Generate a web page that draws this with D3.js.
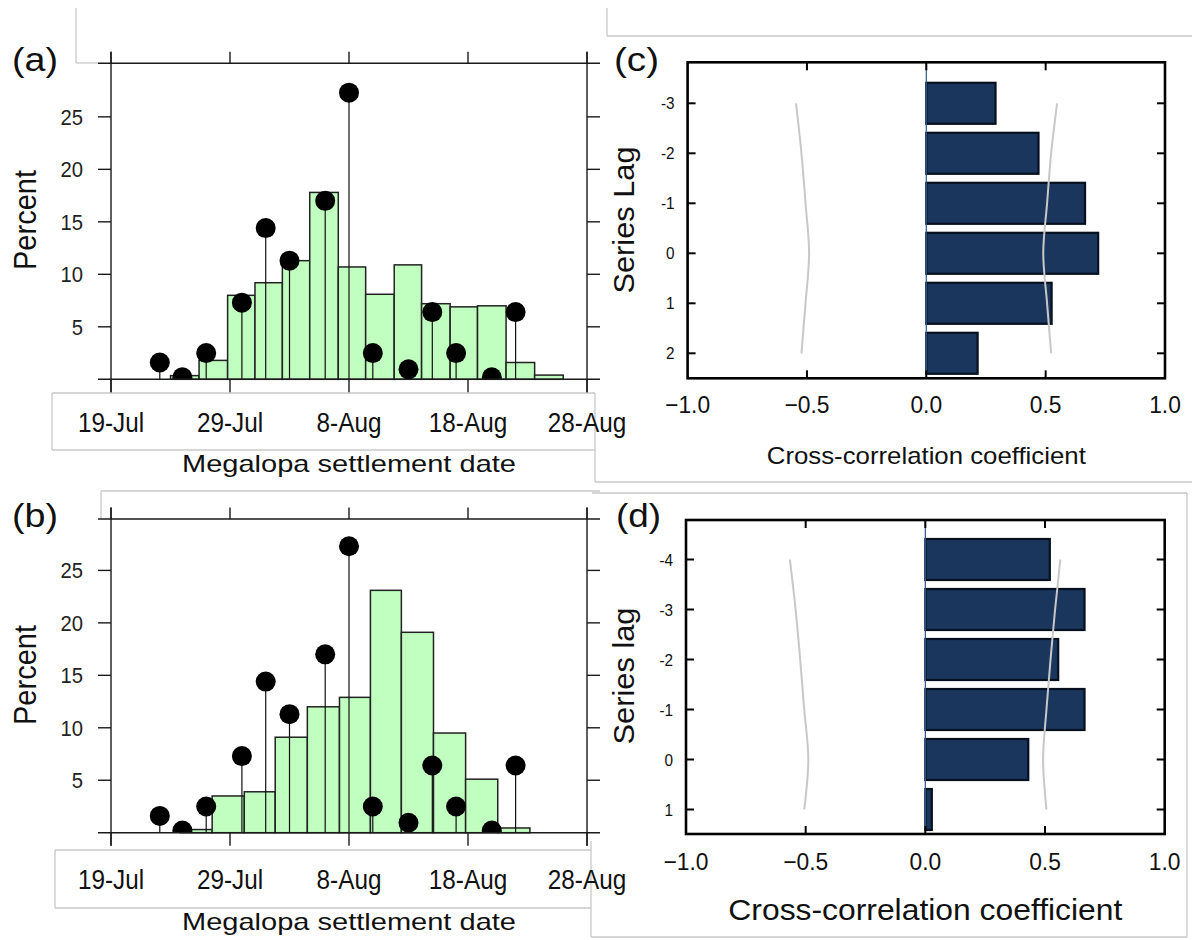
<!DOCTYPE html>
<html>
<head>
<meta charset="utf-8">
<script src="https://d3js.org/d3.v7.min.js"></script>
<style>
  body { margin: 0; background: #fff; }
  text { font-family: "Liberation Sans", Arial, sans-serif; fill: #111; }
  .box { stroke: #c8c8c8; stroke-width: 1.3; fill: none; }
  .spine { stroke: #1a1a1a; stroke-width: 1.4; }
  .bin { fill: #c0ffc0; stroke: #222; stroke-width: 1.5; }
  .stem { stroke: #111; stroke-width: 1.2; }
  .dot { fill: #000; }
  .frame { fill: none; stroke: #000; stroke-width: 2.6; }
  .tick { stroke: #000; stroke-width: 2; }
  .cc { fill: #1b365d; stroke: #06101e; stroke-width: 2.2; }
  .ci { fill: none; stroke: #c8c8c8; stroke-width: 2; }
  .zero { stroke: #2f5688; stroke-width: 1.2; }
</style>
</head>
<body>
<script>
// x in days after 19 Jul
var dayTicks = [0, 10, 20, 30, 40];
var dayLabels = ["19-Jul", "29-Jul", "8-Aug", "18-Aug", "28-Aug"];
var pctTicks = [5, 10, 15, 20, 25];

// settlement (lollipops), same in (a) and (b)
var settleDays = [4.1, 6, 8, 11, 13, 15, 18, 20, 22, 25, 27, 29, 32, 34];
var settlePct = [1.6, 0.2, 2.5, 7.3, 14.4, 11.3, 17.0, 27.3, 2.5, 0.95, 6.4, 2.5, 0.2, 6.4];

// histogram bins: edges in days (n+1), heights in percent (n)
var edgesA = [5.0, 7.4, 9.8, 12.1, 14.4, 16.7, 19.1, 21.4, 23.8, 26.1, 28.5, 30.8, 33.2, 35.6, 38.0];
var histA = [0.35, 1.8, 8.0, 9.2, 11.3, 17.8, 10.7, 8.1, 10.9, 7.2, 6.9, 7.0, 1.6, 0.4];

var edgesB = [5.8, 8.5, 11.2, 13.8, 16.5, 19.2, 21.8, 24.4, 27.1, 29.8, 32.5, 35.2];
var histB = [0.3, 3.5, 3.9, 9.1, 12.0, 12.9, 23.1, 19.1, 9.5, 5.1, 0.45];

// cross-correlations
var corrTicks = [-1, -0.5, 0, 0.5, 1];

var lagsC = [-3, -2, -1, 0, 1, 2];
var corrC = [0.29, 0.47, 0.665, 0.72, 0.525, 0.215];
var ciUpC = [0.548, 0.523, 0.506, 0.49, 0.506, 0.523];
var ciLoC = [-0.546, -0.523, -0.506, -0.491, -0.506, -0.523];

var lagsD = [-4, -3, -2, -1, 0, 1];
var corrD = [0.52, 0.665, 0.555, 0.665, 0.43, 0.027];
var ciUpD = [0.564, 0.542, 0.523, 0.506, 0.492, 0.506];
var ciLoD = [-0.566, -0.542, -0.523, -0.506, -0.489, -0.506];

var svg = d3.select("body").append("svg")
    .attr("width", 1192)
    .attr("height", 940);

// the source figure's fonts are squeezed sideways a bit
function squeeze(sel, k) {
  sel.each(function() {
    var w = this.getComputedTextLength();
    d3.select(this).attr("textLength", w * k).attr("lengthAdjust", "spacingAndGlyphs");
  });
}

// leftover text-box borders from the composed figure
var boxSegs = [
  [76, 8, 76, 63], [76, 63, 98, 63],
  [607, 8, 607, 36], [607, 36, 1192, 36],
  [52, 393, 595, 393], [52, 393, 52, 450], [52, 450, 595, 450], [595, 393, 595, 482],
  [595, 482, 1192, 482],
  [101, 491, 600, 491], [101, 491, 101, 518],
  [592, 493, 1187, 493], [1187, 493, 1187, 937], [591, 937, 1187, 937],
  [55, 850, 591, 850], [55, 850, 55, 908], [55, 908, 591, 908], [591, 841, 591, 937]
];
svg.selectAll("line.box").data(boxSegs).join("line")
    .attr("class", "box")
    .attr("x1", function(d) { return d[0]; })
    .attr("y1", function(d) { return d[1]; })
    .attr("x2", function(d) { return d[2]; })
    .attr("y2", function(d) { return d[3]; });

function hist(o) {
  var x = d3.scaleLinear().domain([0, 40]).range([111, 587]);
  var y = d3.scaleLinear().domain([0, o.top]).range([o.y1, o.y0]);
  var g = svg.append("g");

  g.append("clipPath").attr("id", "clip" + o.tag)
    .append("rect")
    .attr("x", x(0)).attr("y", y(o.top))
    .attr("width", x(40) - x(0)).attr("height", y(0) - y(o.top));

  g.selectAll("rect.bin").data(o.h).join("rect")
      .attr("class", "bin")
      .attr("x", function(d, i) { return x(o.edges[i]); })
      .attr("width", function(d, i) { return x(o.edges[i + 1]) - x(o.edges[i]); })
      .attr("y", function(d) { return y(d); })
      .attr("height", function(d) { return y(0) - y(d); });

  g.selectAll("line.stem").data(settleDays).join("line")
      .attr("class", "stem")
      .attr("x1", function(d) { return x(d); })
      .attr("x2", function(d) { return x(d); })
      .attr("y1", y(0))
      .attr("y2", function(d, i) { return y(settlePct[i]); });

  g.append("g").attr("clip-path", "url(#clip" + o.tag + ")")
    .selectAll("circle").data(settleDays).join("circle")
      .attr("class", "dot")
      .attr("cx", function(d) { return x(d); })
      .attr("cy", function(d, i) { return y(settlePct[i]); })
      .attr("r", 10);

  // crossing spines
  var xl = x(0), xr = x(40), yt = y(o.top), yb = y(0);
  [yt, yb].forEach(function(v) {
    g.append("line").attr("class", "spine")
      .attr("x1", xl - 13).attr("x2", xr + 13).attr("y1", v).attr("y2", v);
  });
  [xl, xr].forEach(function(v) {
    g.append("line").attr("class", "spine")
      .attr("x1", v).attr("x2", v).attr("y1", yt - 11.5).attr("y2", yb + 13);
  });
  g.selectAll("line.tl").data(pctTicks).join("line")
      .attr("class", "spine tl")
      .attr("x1", xl - 13).attr("x2", xl)
      .attr("y1", function(d) { return y(d); }).attr("y2", function(d) { return y(d); });
  g.selectAll("line.tr").data(pctTicks).join("line")
      .attr("class", "spine tr")
      .attr("x1", xr).attr("x2", xr + 13)
      .attr("y1", function(d) { return y(d); }).attr("y2", function(d) { return y(d); });
  g.selectAll("line.tt").data(dayTicks).join("line")
      .attr("class", "spine tt")
      .attr("x1", function(d) { return x(d); }).attr("x2", function(d) { return x(d); })
      .attr("y1", yt - 11.5).attr("y2", yt);
  g.selectAll("line.tb").data(dayTicks).join("line")
      .attr("class", "spine tb")
      .attr("x1", function(d) { return x(d); }).attr("x2", function(d) { return x(d); })
      .attr("y1", yb).attr("y2", yb + 13);

  g.selectAll("text.yl").data(pctTicks).join("text")
      .attr("class", "yl")
      .attr("x", 83)
      .attr("y", function(d) { return y(d); })
      .attr("dy", "0.36em")
      .attr("text-anchor", "end")
      .style("font-size", "22px")
      .style("fill", "#222")
      .text(function(d) { return d; })
      .call(squeeze, 0.92);

  g.selectAll("text.xl").data(dayTicks).join("text")
      .attr("class", "xl")
      .attr("x", function(d) { return x(d); })
      .attr("y", o.labY)
      .attr("text-anchor", "middle")
      .style("font-size", "27px")
      .text(function(d, i) { return dayLabels[i]; })
      .call(squeeze, 0.9);

  g.append("text")
      .attr("x", 349).attr("y", o.titleY)
      .attr("text-anchor", "middle")
      .attr("textLength", 334).attr("lengthAdjust", "spacingAndGlyphs")
      .style("font-size", "24px")
      .text("Megalopa settlement date");

  g.append("text")
      .attr("transform", "translate(36," + o.pctY + ") rotate(-90)")
      .attr("text-anchor", "middle")
      .attr("textLength", 100).attr("lengthAdjust", "spacingAndGlyphs")
      .style("font-size", "31px")
      .text("Percent");

  g.append("text")
      .attr("x", 12).attr("y", o.letterY)
      .attr("textLength", 46).attr("lengthAdjust", "spacingAndGlyphs")
      .style("font-size", "34px")
      .text(o.letter);
}

function corr(o) {
  var x = d3.scaleLinear().domain([-1, 1]).range([o.x0, o.x1]);
  var y = d3.scaleLinear().domain(o.ydom).range([o.y0, o.y1]);
  var band = 0.82;
  var g = svg.append("g");

  g.selectAll("rect.cc").data(o.r).join("rect")
      .attr("class", "cc")
      .attr("x", x(0))
      .attr("width", function(d) { return x(d) - x(0); })
      .attr("y", function(d, i) { return y(o.lags[i] - band / 2); })
      .attr("height", y(band) - y(0));

  g.append("line").attr("class", "zero")
      .attr("x1", x(0)).attr("x2", x(0))
      .attr("y1", o.y0).attr("y2", o.y1);

  var line = d3.line()
      .x(function(d) { return x(d[1]); })
      .y(function(d) { return y(d[0]); })
      .curve(d3.curveMonotoneY);
  [o.ciUp, o.ciLo].forEach(function(ci) {
    g.append("path").attr("class", "ci")
      .attr("d", line(o.lags.map(function(l, i) { return [l, ci[i]]; })));
  });

  g.append("rect").attr("class", "frame")
      .attr("x", o.x0).attr("y", o.y0)
      .attr("width", o.x1 - o.x0).attr("height", o.y1 - o.y0);

  // inside ticks
  g.selectAll("line.tl").data(o.lags).join("line")
      .attr("class", "tick tl")
      .attr("x1", o.x0).attr("x2", o.x0 + 8)
      .attr("y1", function(d) { return y(d); }).attr("y2", function(d) { return y(d); });
  g.selectAll("line.tr").data(o.lags).join("line")
      .attr("class", "tick tr")
      .attr("x1", o.x1 - 8).attr("x2", o.x1)
      .attr("y1", function(d) { return y(d); }).attr("y2", function(d) { return y(d); });
  var inner = corrTicks.slice(1, -1);
  g.selectAll("line.tt").data(inner).join("line")
      .attr("class", "tick tt")
      .attr("x1", function(d) { return x(d); }).attr("x2", function(d) { return x(d); })
      .attr("y1", o.y0).attr("y2", o.y0 + 8);
  g.selectAll("line.tb").data(inner).join("line")
      .attr("class", "tick tb")
      .attr("x1", function(d) { return x(d); }).attr("x2", function(d) { return x(d); })
      .attr("y1", o.y1 - 8).attr("y2", o.y1);

  g.selectAll("text.yl").data(o.lags).join("text")
      .attr("class", "yl")
      .attr("x", o.x0 - 13)
      .attr("y", function(d) { return y(d); })
      .attr("dy", "0.36em")
      .attr("text-anchor", "end")
      .style("font-size", "17px")
      .text(function(d) { return d; })
      .call(squeeze, 0.9);

  g.selectAll("text.xl").data(corrTicks).join("text")
      .attr("class", "xl")
      .attr("x", function(d) { return x(d); })
      .attr("y", o.labY)
      .attr("text-anchor", "middle")
      .style("font-size", "24px")
      .text(function(d) { return d3.format(".1f")(d); })
      .call(squeeze, 0.95);

  g.append("text")
      .attr("x", x(0)).attr("y", o.titleY)
      .attr("text-anchor", "middle")
      .attr("textLength", o.titleLen).attr("lengthAdjust", "spacingAndGlyphs")
      .style("font-size", o.titleSize + "px")
      .text("Cross-correlation coefficient");

  g.append("text")
      .attr("transform", "translate(634," + o.lagY + ") rotate(-90)")
      .attr("text-anchor", "middle")
      .attr("textLength", o.lagLen).attr("lengthAdjust", "spacingAndGlyphs")
      .style("font-size", "30px")
      .text(o.lagTitle);

  g.append("text")
      .attr("x", o.letterX).attr("y", o.letterY)
      .attr("textLength", 45).attr("lengthAdjust", "spacingAndGlyphs")
      .style("font-size", "34px")
      .text(o.letter);
}

hist({ tag: "a", letter: "(a)", top: 30.1, y0: 63.3, y1: 379.3,
       edges: edgesA, h: histA, labY: 432, titleY: 472, pctY: 220, letterY: 71 });
hist({ tag: "b", letter: "(b)", top: 29.9, y0: 519, y1: 832.7,
       edges: edgesB, h: histB, labY: 889, titleY: 930, pctY: 675, letterY: 527 });

corr({ letter: "(c)", letterX: 614, letterY: 71,
       x0: 687.6, x1: 1165, y0: 62.3, y1: 378.3, ydom: [-3.82, 2.5],
       lags: lagsC, r: corrC, ciUp: ciUpC, ciLo: ciLoC,
       labY: 413, titleY: 464, titleLen: 319, titleSize: 24,
       lagTitle: "Series Lag", lagY: 220, lagLen: 147 });
corr({ letter: "(d)", letterX: 616, letterY: 527,
       x0: 686, x1: 1164.7, y0: 520, y1: 834, ydom: [-4.79, 1.49],
       lags: lagsD, r: corrD, ciUp: ciUpD, ciLo: ciLoD,
       labY: 870, titleY: 920, titleLen: 394, titleSize: 30,
       lagTitle: "Series lag", lagY: 676, lagLen: 137 });
</script>
</body>
</html>
